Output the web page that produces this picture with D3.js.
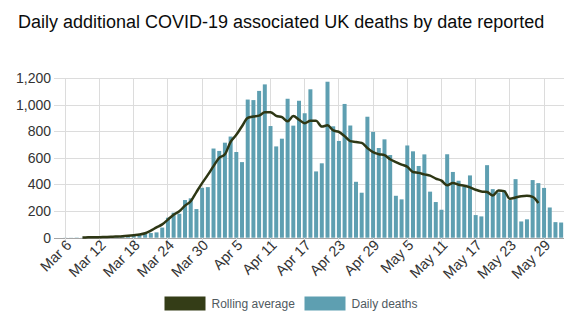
<!DOCTYPE html>
<html lang="en">
<head>
    <meta charset="UTF-8">
    <title>Daily additional COVID-19 associated UK deaths</title>
    <script src="https://d3js.org/d3.v7.min.js"></script>
    <style>
        body { margin: 0; background: #fff; font-family: "Liberation Sans", Arial, sans-serif; }
        .grid line { stroke: #dcdcdc; shape-rendering: crispEdges; }
        .grid path { display: none; }
    </style>
</head>
<body>
    <div id="chart"></div>

    <script>
        // Daily deaths by date reported, starting 6 March
        const startDate = new Date(2020, 2, 6);
        const dailyDeaths = [
            1, 1, 2, 1, 3, 2, 4, 5, 6, 8,
            10, 12, 18, 22, 30, 35, 40, 76, 150, 188,
            180, 283, 296, 215, 375, 380, 670, 652, 714, 760,
            644, 568, 1038, 1034, 1103, 1152, 839, 686, 744, 1044,
            842, 1029, 935, 1115, 498, 559, 1172, 837, 727, 1005,
            843, 420, 338, 909, 795, 674, 739, 621, 315, 288,
            693, 649, 539, 626, 346, 268, 210, 627, 494, 428,
            384, 468, 170, 160, 545, 365, 340, 356, 283, 440,
            122, 138, 433, 410, 374, 227, 117, 114
        ];

        // 7-day rolling average, 9 March to 29 May
        const averageStart = new Date(2020, 2, 9);
        const rollingAverage = [
            2.0, 2.6, 3.3, 4.1, 5.4, 6.7, 9.0, 11.6, 15.1, 19.3,
            23.9, 33.3, 53.0, 77.3, 99.9, 136.0, 173.3, 198.3, 241.0, 273.9,
            342.7, 410.1, 471.7, 538.0, 599.3, 626.9, 720.9, 772.9, 837.3, 899.9,
            911.1, 917.1, 942.3, 943.1, 915.7, 905.1, 874.1, 913.6, 886.7, 860.3,
            878.6, 877.9, 834.7, 844.7, 805.9, 794.7, 763.1, 725.6, 719.6, 712.0,
            674.0, 642.3, 627.3, 620.1, 589.3, 568.4, 549.1, 533.0, 493.7, 487.0,
            475.9, 466.4, 444.3, 428.4, 393.9, 411.3, 397.3, 390.1, 378.4, 360.0,
            347.4, 343.4, 317.0, 355.6, 350.1, 292.0, 301.7, 311.7, 314.3, 306.3,
            260.1
        ];

        const xTickLabels = ["Mar 6", "Mar 12", "Mar 18", "Mar 24", "Mar 30", "Apr 5", "Apr 11",
            "Apr 17", "Apr 23", "Apr 29", "May 5", "May 11", "May 17", "May 23", "May 29"];
        const yTicks = [0, 200, 400, 600, 800, 1000, 1200];
        const legendItems = ["Rolling average", "Daily deaths"];

        const fmtDay = d3.timeFormat("%b %-d");
        const days = dailyDeaths.map((v, i) => ({ date: fmtDay(d3.timeDay.offset(startDate, i)), value: v }));
        const avg = rollingAverage.map((v, i) => ({ date: fmtDay(d3.timeDay.offset(averageStart, i)), value: v }));

        const W = 588, H = 325;
        const plot = { left: 62.5, right: 564, top: 78, bottom: 237.7 };

        const svg = d3.select("#chart").append("svg")
            .attr("width", W)
            .attr("height", H);

        const x = d3.scaleBand()
            .domain(days.map(d => d.date))
            .range([plot.left, plot.right])
            .paddingInner(0.3)
            .paddingOuter(0.15);

        const y = d3.scaleLinear()
            .domain([0, 1200])
            .range([plot.bottom, plot.top]);

        const cx = d => x(d) + x.bandwidth() / 2;

        // Title
        svg.append("text")
            .attr("x", 18)
            .attr("y", 28)
            .attr("fill", "#0b0c0c")
            .style("font-size", "18px")
            .text("Daily additional COVID-19 associated UK deaths by date reported");

        // Horizontal grid + y labels
        const yAxis = svg.append("g")
            .attr("class", "grid")
            .attr("transform", `translate(${plot.right},0)`)
            .call(d3.axisLeft(y).tickValues(yTicks).tickSize(plot.right - 54)
                .tickFormat(d3.format(",")).tickPadding(3));
        yAxis.selectAll("text")
            .attr("fill", "#333")
            .style("font-size", "14px");
        yAxis.selectAll("line").filter(d => d === 0).style("stroke", "#a6a6a6");

        // Vertical grid at labelled days
        const xAxis = svg.append("g")
            .attr("class", "grid")
            .attr("transform", `translate(0,${plot.bottom + 5})`)
            .call(d3.axisBottom(x).tickValues(xTickLabels)
                .tickSize(-(plot.bottom + 5 - plot.top)).tickPadding(6));
        xAxis.selectAll(".tick text")
            .attr("fill", "#333")
            .style("font-size", "14.5px")
            .attr("text-anchor", "end")
            .attr("x", 4)
            .attr("y", 6)
            .attr("dx", "-0.1em")
            .attr("dy", "0.1em")
            .attr("transform", "rotate(-45)");

        // Bars
        svg.append("g")
            .selectAll("rect")
            .data(days)
            .enter()
            .append("rect")
            .attr("x", d => x(d.date))
            .attr("width", x.bandwidth())
            .attr("y", d => y(d.value))
            .attr("height", d => y(0) - y(d.value))
            .attr("fill", "#5e9fb1");

        // Rolling average line
        svg.append("path")
            .datum(avg)
            .attr("fill", "none")
            .attr("stroke", "#2e3714")
            .attr("stroke-width", 2.5)
            .attr("stroke-linejoin", "round")
            .attr("d", d3.line().x(d => cx(d.date)).y(d => y(d.value)).curve(d3.curveMonotoneX));

        // Legend
        const legendColors = ["#343d17", "#5e9fb1"];
        const legendX = [164.5, 304.5];
        const legend = svg.append("g");
        legendItems.forEach((name, i) => {
            legend.append("rect")
                .attr("x", legendX[i])
                .attr("y", 296.5)
                .attr("width", 41)
                .attr("height", 14)
                .attr("fill", legendColors[i]);
            legend.append("text")
                .attr("x", legendX[i] + 47)
                .attr("y", 304)
                .attr("dy", "0.35em")
                .attr("fill", "#505a5f")
                .style("font-size", "12px")
                .text(name);
        });
    </script>
</body>
</html>
